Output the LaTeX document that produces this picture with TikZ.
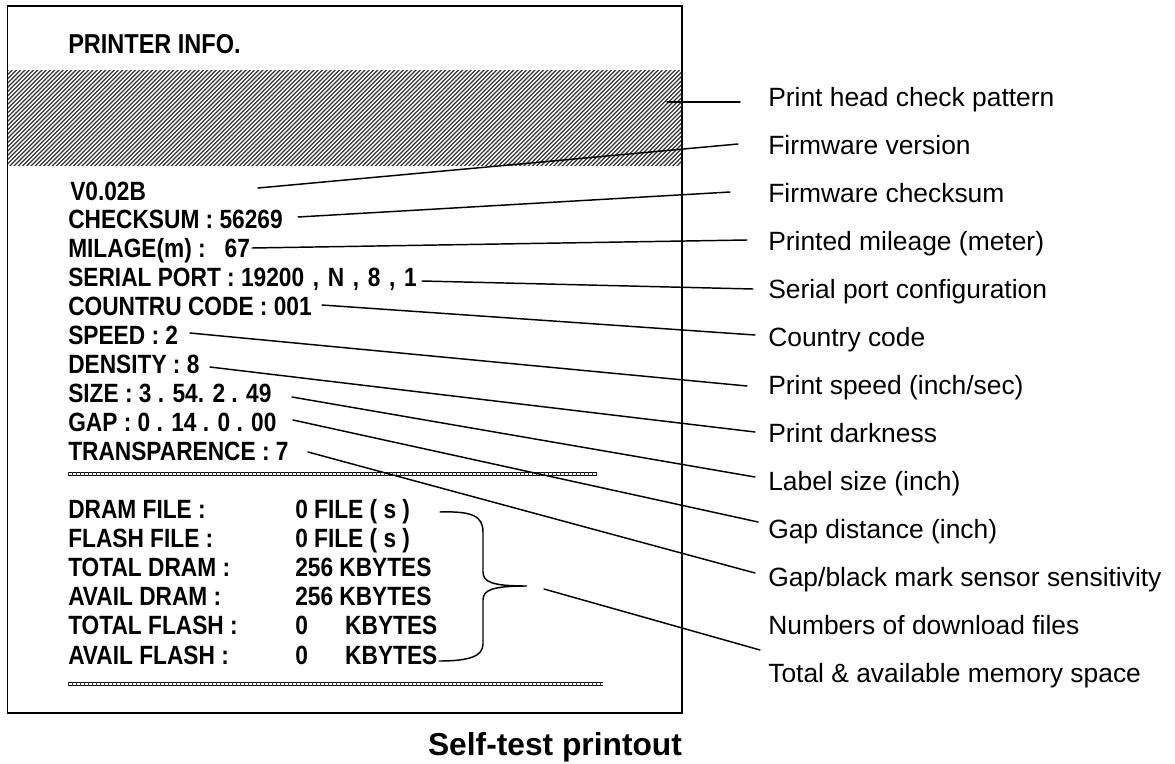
\documentclass[tikz,border=0pt]{standalone}
\usepackage{fontspec}
\setmainfont{Liberation Sans}
\newfontfamily\prtfont[FakeStretch=0.86]{Liberation Sans}
\begin{document}
\begin{tikzpicture}[x=0.75pt,y=-0.75pt,
  prt/.style={anchor=base west,inner sep=0,font=\prtfont\bfseries\fontsize{19.8}{22}\selectfont},
  lbl/.style={anchor=base west,inner sep=0,font=\fontsize{19.8}{22}\selectfont},
  lead/.style={line width=1.1pt,line cap=round},
  hatchline/.style={line width=0.85pt,black!80},
  sepline/.style={line width=0.7pt},
  septick/.style={line width=3.4pt,dash pattern=on 0.6pt off 2.4pt,black!80}]
\useasboundingbox (0,0) rectangle (1175,764);
% hatch band
\begin{scope}
\clip (8,70) rectangle (681,165);
\foreach \i in {0,...,184} \draw[hatchline] (-90+\i*4.25,168) -- ++(100,-100);
\end{scope}
% box
\draw[line width=1.2pt] (7.5,6) rectangle (682,713);
% title of printout
\node[prt,font=\prtfont\bfseries\fontsize{20.5}{22}\selectfont] (pi) at (68,53) {PRINTER INFO.};
% upper rows
\node[prt] (r1) at (70,200) {V0.02B};
\node[prt] (r2) at (68,228.9) {CHECKSUM : 56269};
\node[prt] (r3) at (68,257.8) {MILAGE(m) :\ \ \ 67};
\node[prt] (r4) at (68,286.7) {SERIAL PORT : 19200\hspace{6.5pt},\hspace{6.5pt}N\hspace{6.5pt},\hspace{6.5pt}8\hspace{6.5pt},\hspace{6.5pt}1};
\node[prt] (r5) at (68,315.6) {COUNTRU CODE : 001};
\node[prt] (r6) at (68,344.5) {SPEED : 2};
\node[prt] (r7) at (68,373.4) {DENSITY : 8};
\node[prt] (r8) at (68,402.3) {SIZE : 3 . 54. 2 . 49};
\node[prt] (r9) at (68,431.2) {GAP : 0 . 14 . 0 . 00};
\node[prt] (r10) at (68,460.1) {TRANSPARENCE : 7};
% separators
\draw[sepline] (68,472.5) -- (597,472.5) (68,475.8) -- (597,475.8);
\draw[septick] (68,474.1) -- (597,474.1);
\draw[sepline] (68,682.5) -- (603,682.5) (68,685.8) -- (603,685.8);
\draw[septick] (68,684.1) -- (603,684.1);
% lower rows
\node[prt] (m1) at (68,518) {DRAM FILE :};
\node[prt] (m2) at (68,547.2) {FLASH FILE :};
\node[prt] (m3) at (68,576.4) {TOTAL DRAM :};
\node[prt] (m4) at (68,605.6) {AVAIL DRAM :};
\node[prt] (m5) at (68,634.8) {TOTAL FLASH :};
\node[prt] (m6) at (68,664) {AVAIL FLASH :};
\node[prt] (v1) at (295,518) {0 FILE ( s )};
\node[prt] (v2) at (295,547.2) {0 FILE ( s )};
\node[prt] (v3) at (295,576.4) {256 KBYTES};
\node[prt] (v4) at (295,605.6) {256 KBYTES};
\node[prt] (v5) at (295,634.8) {0\hspace{28pt}KBYTES};
\node[prt] (v6) at (295,664) {0\hspace{28pt}KBYTES};
% brace
\coordinate (bt) at (440,512);
\coordinate (bm) at (527,586);
\coordinate (bb) at (439,661);
\draw[lead] (bt) .. controls (472,511) and (483,516) .. (483,532) -- (483,572)
  .. controls (483,582) and (492,586) .. (bm)
  .. controls (492,586) and (483,590) .. (483,600) -- (483,644)
  .. controls (483,656) and (470,661) .. (bb);
% right labels
\node[lbl] (L1) at (768,106.5) {Print head check pattern};
\node[lbl] (L2) at (768,154.5) {Firmware version};
\node[lbl] (L3) at (768,202.5) {Firmware checksum};
\node[lbl] (L4) at (768,250.5) {Printed mileage (meter)};
\node[lbl] (L5) at (768,298.5) {Serial port configuration};
\node[lbl] (L6) at (768,346.5) {Country code};
\node[lbl] (L7) at (768,394.5) {Print speed (inch/sec)};
\node[lbl] (L8) at (768,442.5) {Print darkness};
\node[lbl] (L9) at (768,490.5) {Label size (inch)};
\node[lbl] (L10) at (768,538.5) {Gap distance (inch)};
\node[lbl] (L11) at (768,586.5) {Gap/black mark sensor sensitivity};
\node[lbl] (L12) at (768,634.5) {Numbers of download files};
\node[lbl] (L13) at (768,682.5) {Total \& available memory space};
% leader end points
\coordinate (s1) at (667,102);  \coordinate (e1) at (740,102);
\coordinate (s2) at (258,188);  \coordinate (e2) at (738,144);
\coordinate (s3) at (298,217);  \coordinate (e3) at (730,192);
\coordinate (s4) at (252,248);  \coordinate (e4) at (747,240);
\coordinate (s5) at (422,281);  \coordinate (e5) at (753,289);
\coordinate (s6) at (322,305);  \coordinate (e6) at (755,335);
\coordinate (s7) at (190,333);  \coordinate (e7) at (747,386);
\coordinate (s8) at (210,367);  \coordinate (e8) at (755,432);
\coordinate (s9) at (292,397);  \coordinate (e9) at (755,477);
\coordinate (s10) at (293,420); \coordinate (e10) at (758,522);
\coordinate (s11) at (308,452); \coordinate (e11) at (755,573);
\coordinate (s12) at (544,589); \coordinate (e12) at (760,650);
\foreach \k in {1,...,12} \draw[lead] (s\k) -- (e\k);
% caption
\node[font=\bfseries\fontsize{23.8}{26}\selectfont,inner sep=0] (cap) at (555,747) {Self-test printout};
\end{tikzpicture}
\end{document}
